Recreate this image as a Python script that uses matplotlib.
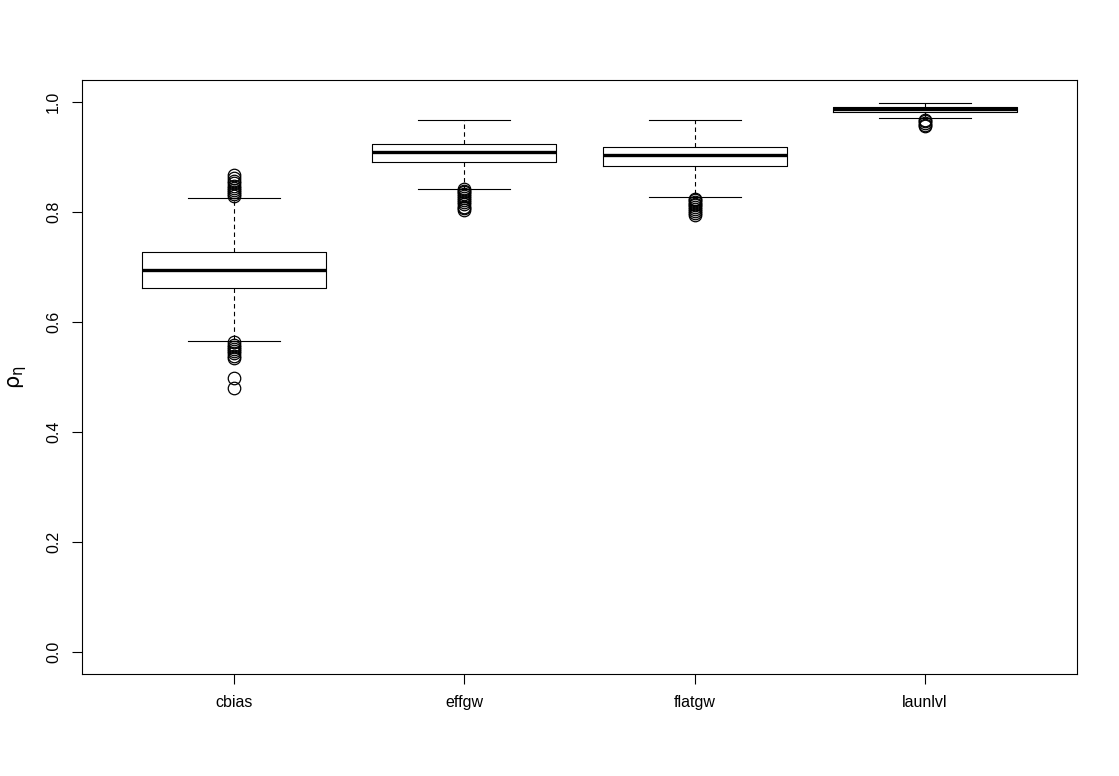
import matplotlib
matplotlib.use("Agg")
import matplotlib.pyplot as plt

plt.rcParams['font.family'] = ['Liberation Sans', 'DejaVu Sans']
plt.rcParams['mathtext.fontset'] = 'custom'
plt.rcParams['mathtext.rm'] = 'DejaVu Sans'

labels = ['cbias', 'effgw', 'flatgw', 'launlvl']

# lower whisker, q1, median, q3, upper whisker
whislo = [0.565, 0.842, 0.827, 0.971]
q1 = [0.662, 0.891, 0.883, 0.982]
med = [0.695, 0.910, 0.903, 0.987]
q3 = [0.727, 0.924, 0.919, 0.991]
whishi = [0.826, 0.968, 0.967, 0.998]

outliers = [
    [0.868, 0.862, 0.857, 0.852, 0.848, 0.844, 0.840, 0.836, 0.832, 0.829,
     0.563, 0.559, 0.555, 0.551, 0.547, 0.543, 0.538, 0.534, 0.499, 0.480],
    [0.842, 0.839, 0.836, 0.833, 0.830, 0.826, 0.822, 0.818, 0.814, 0.810,
     0.807, 0.804],
    [0.824, 0.821, 0.818, 0.815, 0.812, 0.809, 0.806, 0.802, 0.798, 0.795],
    [0.968, 0.965, 0.962, 0.959, 0.957],
]

stats = []
for i, lab in enumerate(labels):
    stats.append(dict(label=lab, whislo=whislo[i], q1=q1[i], med=med[i],
                      q3=q3[i], whishi=whishi[i], fliers=outliers[i]))

fig = plt.figure(figsize=(11.19, 7.76), dpi=100)
ax = fig.add_axes([82 / 1119, 102 / 776, 995 / 1119, 594 / 776])

ax.bxp(stats, positions=[1, 2, 3, 4], widths=0.8,
       boxprops=dict(color='black', linewidth=0.8),
       medianprops=dict(color='black', linewidth=2.4, solid_capstyle='butt'),
       whiskerprops=dict(color='black', linewidth=0.8, linestyle=(0, (4, 3))),
       capprops=dict(color='black', linewidth=0.8),
       capwidths=0.4,
       flierprops=dict(marker='o', markerfacecolor='none', markeredgecolor='black',
                       markersize=9, markeredgewidth=0.9))

ax.set_xlim(0.34, 4.66)
ax.set_ylim(-0.04, 1.04)
ax.set_yticks([0.0, 0.2, 0.4, 0.6, 0.8, 1.0])
ax.set_yticklabels(['0.0', '0.2', '0.4', '0.6', '0.8', '1.0'], rotation=90, va='center')
ax.set_xticks([1, 2, 3, 4])
ax.set_xticklabels(labels)
ax.tick_params(axis='both', direction='out', length=7, width=0.8, labelsize=11.5, pad=8)
for s in ax.spines.values():
    s.set_linewidth(0.8)

ax.set_ylabel(r'$\mathrm{ρ}_{\mathrm{η}}$', fontsize=15, labelpad=12)

plt.savefig('out.png', dpi=100)
